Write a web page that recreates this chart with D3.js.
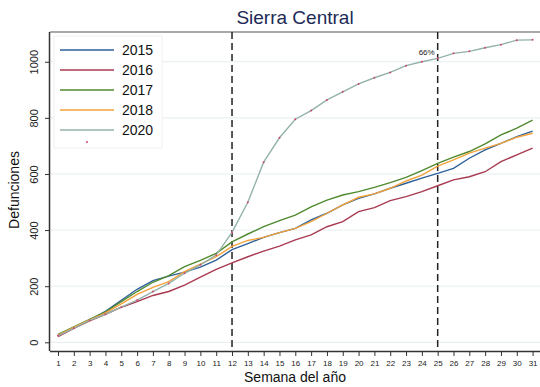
<!DOCTYPE html>
<html><head><meta charset="utf-8">
<script src="https://cdn.jsdelivr.net/npm/d3@7"></script>
<style>body{margin:0;background:#fff}svg{display:block;font-family:"Liberation Sans",Arial,sans-serif}</style>
</head><body><svg id="c" width="540" height="387"></svg>
<script>
const weeks = d3.range(1, 32);
const s2015 = [25,52,80,110,150,189,220,236,250,268,293,330,352,374,391,406,436,460,490,513,529,549,567,585,602,620,656,686,709,733,753];
const s2016 = [20,50,76,100,125,145,167,181,204,232,260,283,305,325,343,365,383,412,430,466,480,505,519,537,558,579,590,608,644,668,692];
const s2017 = [28,55,82,108,145,181,214,238,270,292,317,358,386,412,434,453,483,507,525,537,552,569,588,612,638,660,680,707,739,763,792];
const s2018 = [26,53,80,105,137,171,196,216,252,279,305,342,363,374,391,406,430,460,490,517,529,549,575,596,628,650,674,692,709,731,745];
const s2020 = [24,50,78,100,125,150,181,210,246,276,311,392,499,642,729,795,826,864,893,921,943,962,986,1000,1012,1030,1037,1050,1061,1077,1078];
const seriesNames = ["2015","2016","2017","2018","2020"];
const seriesData = [s2015,s2016,s2017,s2018,s2020];
const colors = ["#2e619a","#a83a50","#4f8a2f","#f2a23a","#93b2ab"];
const yTicks = [0,200,400,600,800,1000];
const markWeeks = [12,25];
const pctLabel = "66%";

const svg = d3.select("#c");
const L=50, R=540, T=32, B=351;
const x = d3.scaleLinear().domain([1,31]).range([58,532.6]);
const y = d3.scaleLinear().domain([-31,1106]).range([B,T]);

// gridlines
svg.append("g").selectAll("line").data(yTicks).join("line")
  .attr("x1",L).attr("x2",R).attr("y1",d=>y(d)).attr("y2",d=>y(d))
  .attr("stroke","#e6eef1").attr("stroke-width",1);

// frame top
svg.append("line").attr("x1",L).attr("x2",R).attr("y1",T).attr("y2",T).attr("stroke","#555").attr("stroke-width",1.2);

// axes
const xa = svg.append("g").attr("transform",`translate(0,${B})`)
  .call(d3.axisBottom(x).tickValues(weeks).tickFormat(d3.format("d")).tickSize(5).tickSizeOuter(0));
xa.select(".domain").attr("d",`M${L},0.5H${R}`).attr("stroke","#333").attr("stroke-width",1.5);
xa.selectAll(".tick line").attr("stroke","#333");
xa.selectAll(".tick text").attr("font-size",8).attr("fill","#222").attr("dy","0.9em");

const ya = svg.append("g").attr("transform",`translate(${L},0)`)
  .call(d3.axisLeft(y).tickValues(yTicks).tickFormat(d3.format("d")).tickSize(5).tickSizeOuter(0));
ya.select(".domain").attr("d",`M-0.5,${T}V${B}`).attr("stroke","#333").attr("stroke-width",1.5);
ya.selectAll(".tick line").attr("stroke","#333");
ya.selectAll(".tick text").attr("font-size",11).attr("fill","#222")
  .attr("x",0).attr("dy",0)
  .attr("transform",d=>`translate(-12,0) rotate(-90)`).attr("text-anchor","middle");

// vertical dashed lines
svg.append("g").selectAll("line").data(markWeeks).join("line")
  .attr("x1",d=>x(d)).attr("x2",d=>x(d)).attr("y1",T).attr("y2",B)
  .attr("stroke","#222").attr("stroke-width",1.5).attr("stroke-dasharray","7,4");

// lines
const line = d3.line().x((d,i)=>x(weeks[i])).y(d=>y(d));
seriesData.forEach((s,k)=>{
  svg.append("path").datum(s).attr("d",line).attr("fill","none")
    .attr("stroke",colors[k]).attr("stroke-width",1.4);
});
// markers on 2020
svg.append("g").selectAll("circle").data(s2020).join("circle")
  .attr("cx",(d,i)=>x(weeks[i])).attr("cy",d=>y(d)).attr("r",1)
  .attr("fill","#d24a6a");

// 66% label
svg.append("text").attr("x",x(25)-3).attr("y",y(s2020[24])-3)
  .attr("text-anchor","end").attr("font-size",8).attr("fill","#222").text(pctLabel);

// legend
const lg = svg.append("g");
lg.append("rect").attr("x",54).attr("y",36).attr("width",108).attr("height",112)
  .attr("fill","#fff").attr("stroke","#f0f0f0");
seriesNames.forEach((n,k)=>{
  const yy = 50 + k*20;
  lg.append("line").attr("x1",60).attr("x2",114).attr("y1",yy).attr("y2",yy)
    .attr("stroke",colors[k]).attr("stroke-width",1.5);
  lg.append("text").attr("x",122).attr("y",yy).attr("dy","0.35em")
    .attr("font-size",14).attr("fill","#111").text(n);
});
lg.append("circle").attr("cx",87).attr("cy",142).attr("r",1).attr("fill","#d24a6a");

// titles
svg.append("text").attr("x",295).attr("y",24).attr("text-anchor","middle")
  .attr("font-size",19).attr("fill","#1c2a55").text("Sierra Central");
svg.append("text").attr("x",295).attr("y",382).attr("text-anchor","middle")
  .attr("font-size",14).attr("fill","#111").text("Semana del año");
svg.append("text").attr("transform","translate(19,190) rotate(-90)").attr("text-anchor","middle")
  .attr("font-size",14).attr("fill","#111").text("Defunciones");
</script></body></html>
